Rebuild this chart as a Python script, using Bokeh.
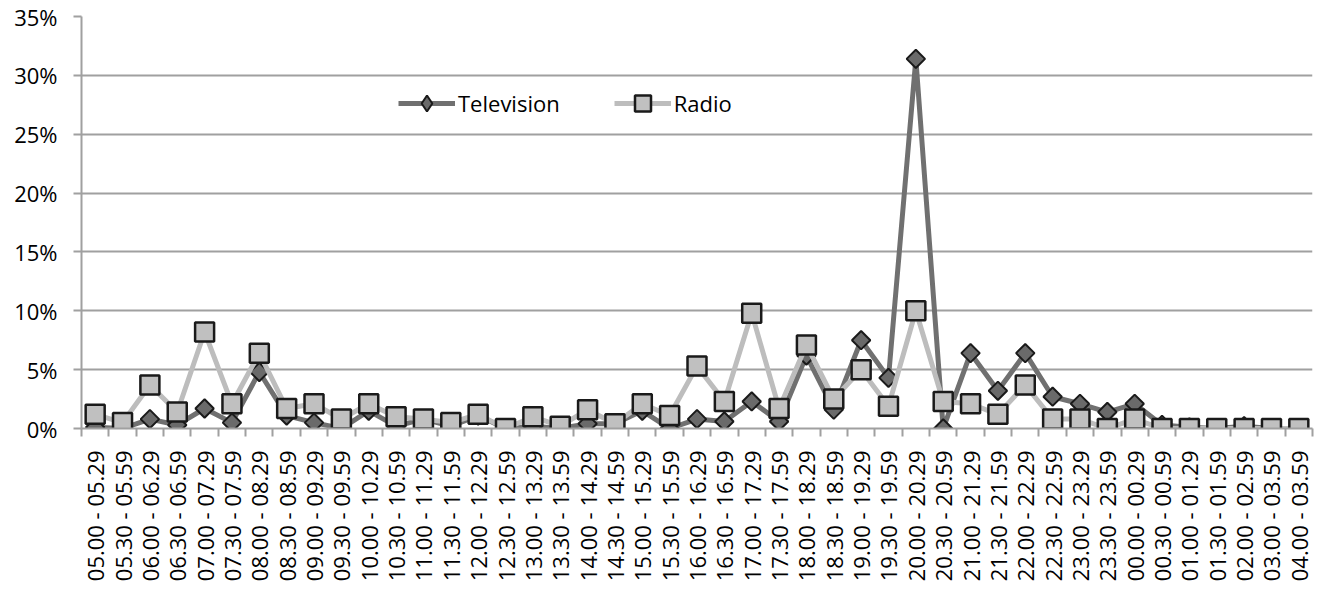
import numpy as np
from bokeh.plotting import figure
from bokeh.models import (Range1d, FixedTicker, NumeralTickFormatter, Legend, LegendItem,
                          ColumnDataSource)
from bokeh.embed import file_html
from bokeh.resources import INLINE

categories = [
    "05.00 - 05.29", "05.30 - 05.59", "06.00 - 06.29", "06.30 - 06.59", "07.00 - 07.29",
    "07.30 - 07.59", "08.00 - 08.29", "08.30 - 08.59", "09.00 - 09.29", "09.30 - 09.59",
    "10.00 - 10.29", "10.30 - 10.59", "11.00 - 11.29", "11.30 - 11.59", "12.00 - 12.29",
    "12.30 - 12.59", "13.00 - 13.29", "13.30 - 13.59", "14.00 - 14.29", "14.30 - 14.59",
    "15.00 - 15.29", "15.30 - 15.59", "16.00 - 16.29", "16.30 - 16.59", "17.00 - 17.29",
    "17.30 - 17.59", "18.00 - 18.29", "18.30 - 18.59", "19.00 - 19.29", "19.30 - 19.59",
    "20.00 - 20.29", "20.30 - 20.59", "21.00 - 21.29", "21.30 - 21.59", "22.00 - 22.29",
    "22.30 - 22.59", "23.00 - 23.29", "23.30 - 23.59", "00.00 - 00.29", "00.30 - 00.59",
    "01.00 - 01.29", "01.30 - 01.59", "02.00 - 02.59", "03.00 - 03.59", "04.00 - 03.59",
]

television = [
    0.1, 0.0, 0.8, 0.3, 1.7, 0.5, 4.8, 1.1, 0.5, 0.0,
    1.5, 0.2, 0.8, 0.2, 1.1, 0.0, 0.2, 0.0, 0.4, 0.4,
    1.5, 0.0, 0.8, 0.6, 2.3, 0.6, 6.2, 1.6, 7.5, 4.3,
    31.4, 0.0, 6.4, 3.2, 6.4, 2.7, 2.1, 1.4, 2.1, 0.3,
    0.1, 0.0, 0.2, 0.0, 0.0,
]

radio = [
    1.2, 0.5, 3.7, 1.4, 8.2, 2.1, 6.4, 1.7, 2.1, 0.8,
    2.1, 1.0, 0.8, 0.5, 1.2, 0.0, 1.0, 0.2, 1.6, 0.4,
    2.1, 1.1, 5.3, 2.3, 9.8, 1.7, 7.1, 2.5, 5.0, 1.9,
    10.0, 2.3, 2.1, 1.2, 3.7, 0.8, 0.8, 0.0, 0.8, 0.0,
    0.0, 0.0, 0.0, 0.0, 0.0,
]

y_ticks = [0, 5, 10, 15, 20, 25, 30, 35]

n = len(categories)
xs = list(range(n))
src = ColumnDataSource(dict(
    x=xs,
    tv=[v / 100 for v in television],
    radio=[v / 100 for v in radio],
))
# legend proxy source: a single NaN point, never visible in the plot
proxy = ColumnDataSource(dict(x=[np.nan], y=[np.nan]))

FONT = "Open Sans"
GRID = "#a0a0a0"
FS = "22px"

p = figure(
    frame_width=1231, frame_height=412,
    min_border_left=81, min_border_right=2, min_border_top=16, min_border_bottom=160,
    x_range=Range1d(-0.5, n - 0.5), y_range=Range1d(0, 0.35),
    output_backend="svg", toolbar_location=None, tools="",
    background_fill_color="white", border_fill_color="white",
)
p.outline_line_color = None

# y axis
p.yaxis.ticker = FixedTicker(ticks=[t / 100 for t in y_ticks])
p.yaxis.formatter = NumeralTickFormatter(format="0%")
p.yaxis.major_label_text_font = FONT
p.yaxis.major_label_text_font_size = FS
p.yaxis.major_label_text_color = "#000000"
p.yaxis.axis_line_color = GRID
p.yaxis.axis_line_width = 2
p.yaxis.major_tick_line_color = GRID
p.yaxis.major_tick_line_width = 2
p.yaxis.major_tick_out = 8
p.yaxis.major_tick_in = 0
p.yaxis.minor_tick_line_color = None
p.yaxis.major_label_standoff = 16

# x axis
p.xaxis.ticker = FixedTicker(ticks=xs, minor_ticks=[i - 0.5 for i in range(n + 1)])
p.xaxis.major_label_overrides = {i: c for i, c in enumerate(categories)}
p.xaxis.major_label_orientation = np.pi / 2
p.xaxis.major_label_text_font = FONT
p.xaxis.major_label_text_font_size = FS
p.xaxis.major_label_text_color = "#000000"
p.xaxis.major_tick_line_color = None
p.xaxis.minor_tick_line_color = GRID
p.xaxis.minor_tick_line_width = 2
p.xaxis.minor_tick_out = 8
p.xaxis.minor_tick_in = 0
p.xaxis.axis_line_color = GRID
p.xaxis.axis_line_width = 2
p.xaxis.major_label_standoff = 14

p.xgrid.grid_line_color = None
p.ygrid.ticker = FixedTicker(ticks=[t / 100 for t in y_ticks])
p.ygrid.grid_line_color = GRID
p.ygrid.grid_line_width = 2

TV_LINE = "#707070"
TV_FILL = "#6a6a6a"
R_LINE = "#bdbdbd"
R_FILL = "#c0c0c0"
EDGE = "#1a1a1a"

tv_l = p.line("x", "tv", source=src, line_color=TV_LINE, line_width=5)
tv_m = p.scatter("x", "tv", source=src, marker="square", angle=np.pi / 4, size=13,
                 fill_color=TV_FILL, line_color=EDGE, line_width=2)
r_l = p.line("x", "radio", source=src, line_color=R_LINE, line_width=5)
r_m = p.scatter("x", "radio", source=src, marker="square", size=19,
                fill_color=R_FILL, line_color=EDGE, line_width=2.5)

lg_tv_l = p.line("x", "y", source=proxy, line_color=TV_LINE, line_width=5)
lg_tv_m = p.scatter("x", "y", source=proxy, marker="diamond", size=19,
                    fill_color=TV_FILL, line_color=EDGE, line_width=2)
lg_r_l = p.line("x", "y", source=proxy, line_color=R_LINE, line_width=5)
lg_r_m = p.scatter("x", "y", source=proxy, marker="square", size=19,
                   fill_color=R_FILL, line_color=EDGE, line_width=2.5)

legend = Legend(
    items=[LegendItem(label="Television", renderers=[lg_tv_l, lg_tv_m]),
           LegendItem(label="Radio", renderers=[lg_r_l, lg_r_m])],
    orientation="horizontal", location=(317, 305),
    glyph_width=57, glyph_height=40, label_standoff=3, spacing=54,
    padding=0, margin=0, border_line_color=None, background_fill_alpha=0,
    label_text_font=FONT, label_text_font_size=FS, label_text_color="#000000",
)
p.add_layout(legend)

open("out.html", "w").write(file_html(p, INLINE))
